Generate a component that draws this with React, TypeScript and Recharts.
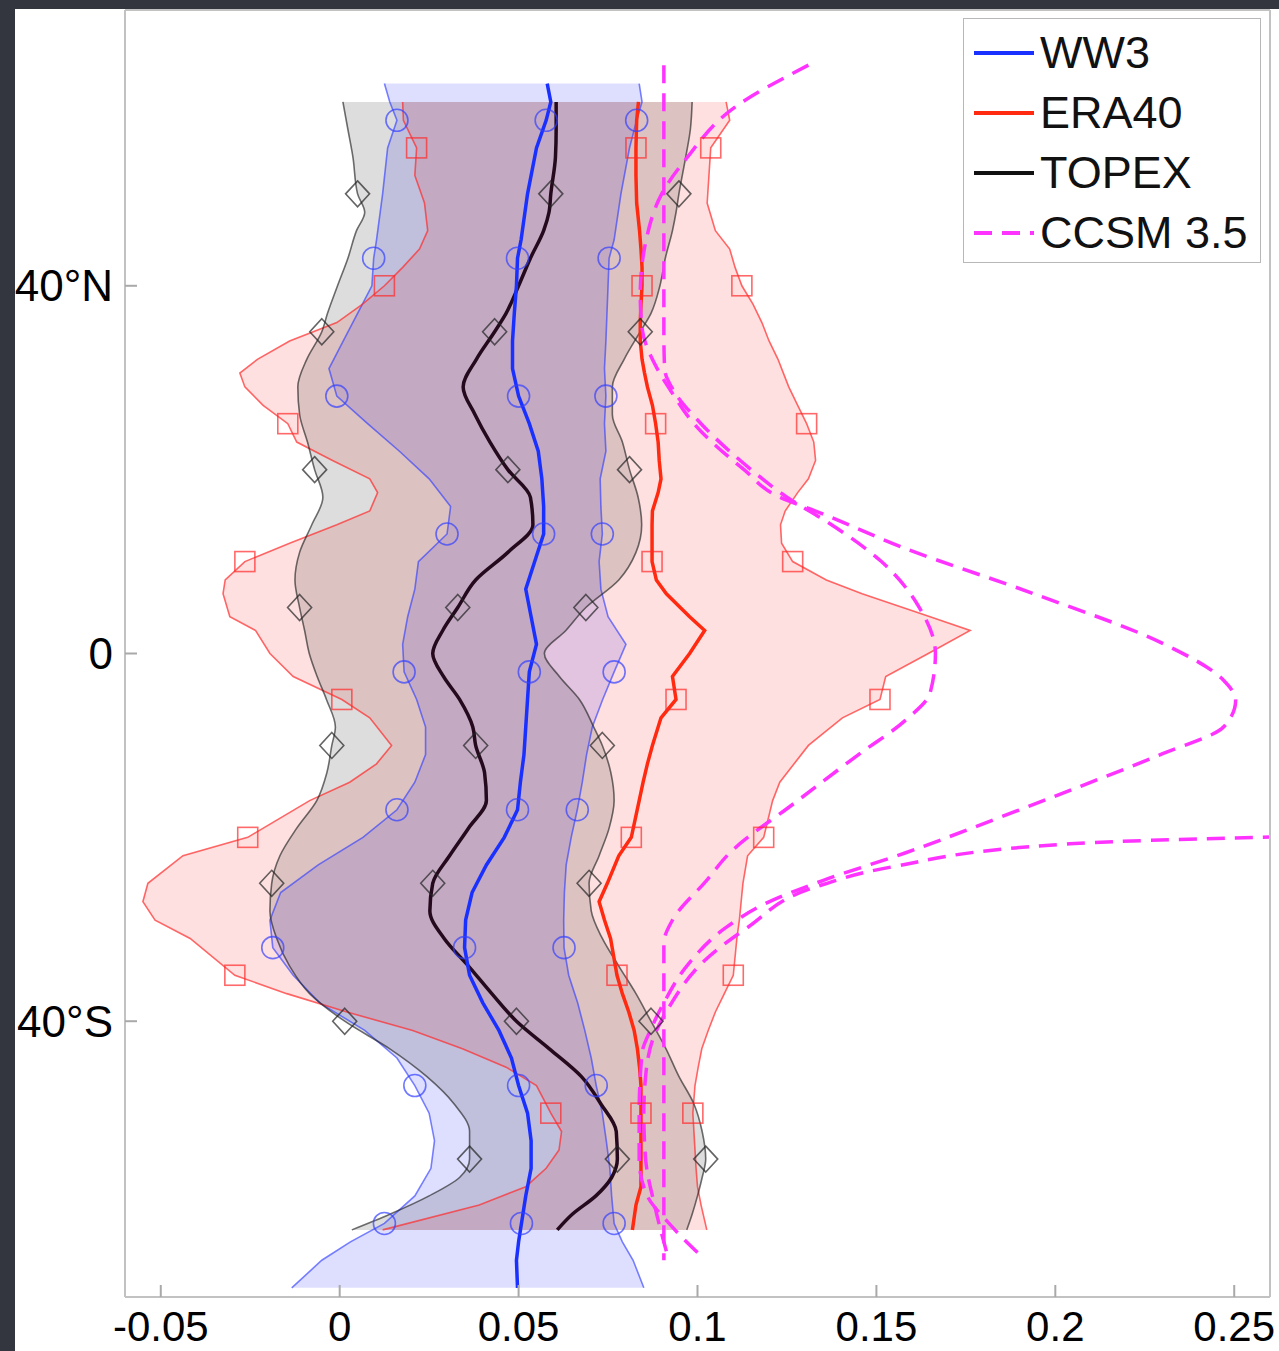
import React from 'react';
import { ComposedChart, Area, Line, XAxis, YAxis, Legend } from 'recharts';

// WW3 band: latitude, lower bound, mean, upper bound
const ww3Lat = [62, 60, 58, 55, 50, 45, 43, 40, 37, 34, 31, 28, 25, 22, 19, 16, 13, 10, 7, 4, 1, -2, -5, -8, -11, -14, -17, -20, -23, -26, -29, -32, -35, -38, -41, -44, -47, -50, -53, -56, -59, -62, -64, -66, -69];
const ww3Lo = [0.0125, 0.014, 0.016, 0.0134, 0.012, 0.0103, 0.0095, 0.009, 0.005, 0.001, -0.003, -0.0008, 0.0078, 0.0167, 0.025, 0.031, 0.03, 0.022, 0.021, 0.019, 0.0176, 0.018, 0.0215, 0.024, 0.024, 0.021, 0.016, 0.0065, -0.006, -0.0165, -0.0195, -0.0187, -0.013, -0.0056, 0.007, 0.016, 0.021, 0.025, 0.0265, 0.0255, 0.021, 0.0125, 0.003, -0.005, -0.0134];
const ww3Mean = [0.058, 0.059, 0.0577, 0.055, 0.0525, 0.0507, 0.0497, 0.0494, 0.0488, 0.0483, 0.0483, 0.05, 0.053, 0.0555, 0.0565, 0.057, 0.057, 0.0545, 0.052, 0.0535, 0.055, 0.053, 0.0525, 0.052, 0.0515, 0.0505, 0.0497, 0.046, 0.041, 0.037, 0.0352, 0.0349, 0.0363, 0.04, 0.0445, 0.048, 0.05, 0.0525, 0.0535, 0.0535, 0.052, 0.0508, 0.05, 0.0494, 0.0497];
const ww3Hi = [0.0837, 0.0845, 0.083, 0.081, 0.0786, 0.0767, 0.0753, 0.075, 0.0747, 0.0744, 0.074, 0.0744, 0.074, 0.0744, 0.0728, 0.073, 0.0734, 0.0725, 0.073, 0.075, 0.08, 0.0767, 0.0735, 0.0706, 0.069, 0.0678, 0.0664, 0.0647, 0.0633, 0.0628, 0.0626, 0.0627, 0.064, 0.0665, 0.0685, 0.0703, 0.0717, 0.0734, 0.0745, 0.0755, 0.076, 0.0767, 0.079, 0.082, 0.085];
const ww3Marks = [58, 43, 28, 13, -2, -17, -32, -47, -62];

// ERA40 band
const eraLat = [60, 58, 55, 52, 49, 46, 44, 42, 40, 38, 36, 34, 32, 30.5, 29, 27, 25, 23, 21, 19, 17.5, 15.5, 14, 12, 10, 8, 6.5, 4, 2.5, 0, -2.5, -5, -7, -10, -12, -14, -16, -20, -22, -25, -27, -29, -31, -35, -37, -39, -41, -43, -45, -47, -50, -52, -54, -56, -58, -60, -62.7];
const eraLo = [0.0176, 0.0178, 0.0215, 0.021, 0.0237, 0.0246, 0.0223, 0.0176, 0.0125, 0.0064, -0.0008, -0.014, -0.023, -0.0279, -0.0265, -0.0214, -0.0145, -0.012, -0.002, 0.0084, 0.0106, 0.0084, -0.0008, -0.014, -0.0265, -0.032, -0.0326, -0.0307, -0.0235, -0.0195, -0.013, 0.0006, 0.0084, 0.0145, 0.0103, 0.0028, -0.0084, -0.0257, -0.0438, -0.0536, -0.055, -0.0516, -0.0418, -0.0293, -0.0148, 0.002, 0.0204, 0.0343, 0.0465, 0.055, 0.059, 0.062, 0.0613, 0.0577, 0.052, 0.039, 0.012];
const eraMean = [0.0835, 0.083, 0.0828, 0.0828, 0.083, 0.0838, 0.0842, 0.0845, 0.0845, 0.0842, 0.084, 0.084, 0.0845, 0.0852, 0.086, 0.0874, 0.0883, 0.089, 0.0893, 0.0898, 0.089, 0.0874, 0.0873, 0.0873, 0.0873, 0.0885, 0.0913, 0.0978, 0.102, 0.0978, 0.093, 0.094, 0.0898, 0.0874, 0.086, 0.0848, 0.0837, 0.0815, 0.078, 0.0748, 0.0725, 0.074, 0.0757, 0.0775, 0.079, 0.0808, 0.0823, 0.0832, 0.0838, 0.0842, 0.0842, 0.0842, 0.0842, 0.0842, 0.0842, 0.0828, 0.0818];
const eraHi = [0.108, 0.109, 0.1037, 0.1032, 0.1027, 0.105, 0.109, 0.1105, 0.1124, 0.1155, 0.118, 0.12, 0.1225, 0.124, 0.1255, 0.128, 0.1305, 0.1325, 0.133, 0.131, 0.128, 0.1245, 0.1232, 0.1235, 0.1266, 0.136, 0.146, 0.165, 0.1762, 0.1645, 0.1526, 0.151, 0.1405, 0.131, 0.127, 0.123, 0.121, 0.1185, 0.114, 0.1127, 0.1122, 0.1117, 0.111, 0.11, 0.1075, 0.105, 0.103, 0.1012, 0.1002, 0.0993, 0.0987, 0.099, 0.0993, 0.0996, 0.1, 0.101, 0.1026];
const eraMarks = [55, 40, 25, 10, -5, -20, -35, -50];

// TOPEX band
const topLat = [60, 57, 54, 50, 48, 46, 43, 40, 37, 35, 32, 29, 26, 23, 20, 17, 14, 11, 8, 5, 2.5, 0, -2.5, -5, -8, -10, -13, -16, -19, -22, -25, -28, -31, -34, -37, -40, -43, -46, -49, -52, -55, -57, -59, -61, -62.7];
const topLo = [0.0009, 0.0023, 0.0037, 0.005, 0.007, 0.0047, 0.0023, -0.0006, -0.0034, -0.005, -0.0092, -0.0117, -0.0112, -0.009, -0.007, -0.0047, -0.0078, -0.0112, -0.0125, -0.0112, -0.0098, -0.0085, -0.0063, -0.0037, -0.0012, -0.0022, -0.0036, -0.0064, -0.012, -0.0167, -0.019, -0.0195, -0.0176, -0.014, -0.0084, 0.0014, 0.014, 0.0243, 0.032, 0.0363, 0.0363, 0.0335, 0.025, 0.014, 0.0034];
const topMean = [0.0605, 0.0605, 0.0603, 0.059, 0.0585, 0.057, 0.0533, 0.05, 0.0465, 0.0433, 0.0382, 0.0345, 0.0378, 0.042, 0.047, 0.0533, 0.054, 0.047, 0.038, 0.033, 0.0288, 0.026, 0.029, 0.0335, 0.0372, 0.038, 0.0405, 0.041, 0.036, 0.0307, 0.026, 0.0252, 0.0292, 0.036, 0.0425, 0.0494, 0.0586, 0.0675, 0.073, 0.0773, 0.0776, 0.076, 0.0716, 0.065, 0.0608];
const topHi = [0.0985, 0.098, 0.0967, 0.0948, 0.094, 0.093, 0.091, 0.0895, 0.087, 0.084, 0.0795, 0.0762, 0.0762, 0.079, 0.081, 0.0834, 0.0844, 0.0828, 0.078, 0.0688, 0.0632, 0.0572, 0.0614, 0.067, 0.071, 0.0734, 0.0758, 0.0767, 0.0753, 0.0725, 0.0697, 0.0703, 0.0734, 0.078, 0.0828, 0.087, 0.0912, 0.0948, 0.099, 0.1013, 0.1023, 0.1013, 0.1, 0.0985, 0.097];
const topMarks = [50, 35, 20, 5, -10, -25, -40, -55];

// CCSM 3.5 dashed curves
const ccsmALat = [64, 55, 45, 35, 31, 28.5, 25, 20, 17, 14.5, 10, 5, 0, -4.3, -7.3, -11, -16.3, -21.7, -24.7, -29, -31.5, -40, -50, -60, -66];
const ccsmA = [0.0906, 0.0906, 0.0906, 0.0906, 0.0908, 0.0935, 0.101, 0.115, 0.125, 0.1355, 0.1514, 0.162, 0.1665, 0.165, 0.158, 0.145, 0.127, 0.109, 0.1025, 0.093, 0.0906, 0.0906, 0.0906, 0.0906, 0.0906];
const ccsmBLat = [64, 59.3, 53.9, 50, 45.6, 39, 35.4, 30.8, 28.3, 25, 20, 17, 15.5, 11.5, 6.5, 1.1, -2.9, -5.1, -8, -10.9, -14.6, -18.2, -21.7, -24.7, -27.2, -29.8, -33.7, -37.7, -40.6, -43.5, -50, -55, -58.7, -62.4, -65.6];
const ccsmB = [0.131, 0.11, 0.097, 0.09, 0.086, 0.084, 0.0845, 0.089, 0.093, 0.099, 0.113, 0.123, 0.133, 0.1576, 0.194, 0.23, 0.247, 0.2504, 0.247, 0.23, 0.206, 0.182, 0.158, 0.135, 0.119, 0.108, 0.0976, 0.091, 0.0873, 0.0845, 0.0837, 0.0837, 0.0856, 0.093, 0.1012];
const ccsmCLat = [-19.5, -20.7, -23.2, -25.4, -29.8, -33.4, -38.5, -42, -46, -50, -55, -60, -66];
const ccsmC = [0.31, 0.204, 0.1545, 0.133, 0.114, 0.102, 0.092, 0.0875, 0.0855, 0.085, 0.0855, 0.088, 0.092];

const xTicks = [-0.05, 0, 0.05, 0.1, 0.15, 0.2, 0.25];
const yTicks = [-40, 0, 40];
const legendNames = ['WW3', 'ERA40', 'TOPEX', 'CCSM 3.5'];

const FONT = '"Liberation Sans", Arial, Helvetica, sans-serif';
const BLUE = '#1930ff';
const RED = '#ff2a10';
const DARK = '#240a1c';
const MAGENTA = '#ff33ff';

const band = (lat: number[], lo: number[], mean: number[], hi: number[]) =>
  lat.map((l, i) => ({ lat: l, lo: lo[i], mean: mean[i], hi: hi[i], range: [lo[i], hi[i]] }));
const curve = (lat: number[], v: number[]) => lat.map((l, i) => ({ lat: l, v: v[i] }));

const ww3Data = band(ww3Lat, ww3Lo, ww3Mean, ww3Hi);
const eraData = band(eraLat, eraLo, eraMean, eraHi);
const topData = band(topLat, topLo, topMean, topHi);
const ccsmAData = curve(ccsmALat, ccsmA);
const ccsmBData = curve(ccsmBLat, ccsmB);
const ccsmCData = curve(ccsmCLat, ccsmC);

// hollow marker drawn only at the marked latitudes
const marker = (shape: string, color: string, marks: number[]) => (props: any) => {
  const { cx, cy, payload, index } = props;
  const key = `m-${shape}-${index}`;
  if (cx == null || cy == null || !payload || !marks.includes(payload.lat)) return <g key={key} />;
  const common = { fill: 'none', stroke: color, strokeWidth: 1.6, strokeOpacity: 0.7 };
  if (shape === 'circle') return <circle key={key} cx={cx} cy={cy} r={11} {...common} />;
  if (shape === 'square') return <rect key={key} x={cx - 10} y={cy - 10} width={20} height={20} {...common} />;
  return <polygon key={key} points={`${cx},${cy - 13} ${cx + 12},${cy} ${cx},${cy + 13} ${cx - 12},${cy}`} {...common} />;
};

const latLabel = (v: number) => (v > 0 ? `${v}°N` : v < 0 ? `${-v}°S` : '0');

const LegendBox = () => (
  <div
    style={{
      width: 298,
      height: 245,
      border: '1.5px solid #b8b8b8',
      background: '#fff',
      boxSizing: 'border-box',
      fontFamily: FONT,
      fontSize: 45,
      color: '#111',
      paddingTop: 4,
    }}
  >
    {legendNames.map((name, i) => (
      <div key={name} style={{ display: 'flex', alignItems: 'center', height: 60 }}>
        <svg width={74} height={20} style={{ flex: 'none' }}>
          <line
            x1={10}
            y1={10}
            x2={70}
            y2={10}
            stroke={[BLUE, RED, '#111', MAGENTA][i]}
            strokeWidth={4}
            strokeDasharray={i === 3 ? '18 10' : undefined}
          />
        </svg>
        <span style={{ marginLeft: 2, whiteSpace: 'nowrap' }}>{name}</span>
      </div>
    ))}
  </div>
);

const W = 1279;
const H = 1351;

const App = () => {
  const axisStroke = { stroke: '#c2c2c2', strokeWidth: 2 };
  const tickStroke = { stroke: '#a9a9a9', strokeWidth: 2 };
  return (
    <div style={{ position: 'absolute', left: 0, top: 0, width: W, height: H, background: '#33363e' }}>
      <div style={{ position: 'absolute', left: 15, top: 9, width: W - 15, height: H - 9, background: '#fff', overflow: 'hidden' }}>
        <div style={{ position: 'absolute', left: -15, top: -9 }}>
          <ComposedChart width={W} height={H} layout="vertical" margin={{ top: 10, right: 9, bottom: 4, left: 25 }}>
            <XAxis
              type="number"
              domain={[-0.06, 0.26]}
              allowDataOverflow
              ticks={xTicks}
              height={50}
              tickSize={-12}
              tickMargin={26}
              tickLine={tickStroke}
              axisLine={axisStroke}
              tick={{ fill: '#000', fontSize: 42, fontFamily: FONT }}
              tickFormatter={(v: number) => String(v)}
            />
            <XAxis
              xAxisId="top"
              orientation="top"
              mirror
              type="number"
              domain={[-0.06, 0.26]}
              allowDataOverflow
              ticks={xTicks}
              tick={false}
              tickSize={12}
              tickLine={tickStroke}
              axisLine={axisStroke}
            />
            <YAxis
              type="number"
              dataKey="lat"
              domain={[-70, 70]}
              allowDataOverflow
              reversed
              ticks={yTicks}
              width={100}
              tickSize={-12}
              tickMargin={24}
              tickLine={tickStroke}
              axisLine={axisStroke}
              tick={{ fill: '#000', fontSize: 44, fontFamily: FONT }}
              tickFormatter={latLabel}
            />
            <YAxis
              yAxisId="right"
              orientation="right"
              mirror
              type="number"
              dataKey="lat"
              domain={[-70, 70]}
              allowDataOverflow
              reversed
              ticks={yTicks}
              tick={false}
              tickSize={12}
              tickLine={tickStroke}
              axisLine={axisStroke}
            />

            {/* shaded spreads */}
            <Area data={ww3Data} dataKey="range" type="linear" stroke="none" fill="#0000ff" fillOpacity={0.13} dot={false} activeDot={false} isAnimationActive={false} />
            <Area data={eraData} dataKey="range" type="linear" stroke="none" fill="#ff0000" fillOpacity={0.12} dot={false} activeDot={false} isAnimationActive={false} />
            <Area data={topData} dataKey="range" type="monotone" stroke="none" fill="#000000" fillOpacity={0.135} dot={false} activeDot={false} isAnimationActive={false} />

            {/* spread edges */}
            <Line data={ww3Data} dataKey="lo" type="linear" stroke="#3340ff" strokeOpacity={0.65} strokeWidth={1.6} dot={marker('circle', '#3340ff', ww3Marks)} activeDot={false} isAnimationActive={false} />
            <Line data={ww3Data} dataKey="hi" type="linear" stroke="#3340ff" strokeOpacity={0.65} strokeWidth={1.6} dot={marker('circle', '#3340ff', ww3Marks)} activeDot={false} isAnimationActive={false} />
            <Line data={eraData} dataKey="lo" type="linear" stroke="#ff2a2a" strokeOpacity={0.7} strokeWidth={1.6} dot={marker('square', '#ff2a2a', eraMarks)} activeDot={false} isAnimationActive={false} />
            <Line data={eraData} dataKey="hi" type="linear" stroke="#ff2a2a" strokeOpacity={0.7} strokeWidth={1.6} dot={marker('square', '#ff2a2a', eraMarks)} activeDot={false} isAnimationActive={false} />
            <Line data={topData} dataKey="lo" type="monotone" stroke="#222" strokeOpacity={0.65} strokeWidth={1.6} dot={marker('diamond', '#222', topMarks)} activeDot={false} isAnimationActive={false} />
            <Line data={topData} dataKey="hi" type="monotone" stroke="#222" strokeOpacity={0.65} strokeWidth={1.6} dot={marker('diamond', '#222', topMarks)} activeDot={false} isAnimationActive={false} />

            {/* means */}
            <Line data={topData} dataKey="mean" type="monotone" stroke={DARK} strokeWidth={3.5} dot={marker('diamond', '#222', topMarks)} activeDot={false} isAnimationActive={false} />
            <Line data={ww3Data} dataKey="mean" type="linear" stroke={BLUE} strokeWidth={3.5} dot={marker('circle', '#3340ff', ww3Marks)} activeDot={false} isAnimationActive={false} />
            <Line data={eraData} dataKey="mean" type="linear" stroke={RED} strokeWidth={3.5} dot={marker('square', '#ff2a2a', eraMarks)} activeDot={false} isAnimationActive={false} />

            {/* CCSM 3.5 */}
            <Line data={ccsmAData} dataKey="v" type="monotone" stroke={MAGENTA} strokeWidth={3.5} strokeDasharray="18 10" dot={false} activeDot={false} isAnimationActive={false} />
            <Line data={ccsmBData} dataKey="v" type="monotone" stroke={MAGENTA} strokeWidth={3.5} strokeDasharray="18 10" dot={false} activeDot={false} isAnimationActive={false} />
            <Line data={ccsmCData} dataKey="v" type="monotone" stroke={MAGENTA} strokeWidth={3.5} strokeDasharray="18 10" dot={false} activeDot={false} isAnimationActive={false} />

            <Legend
              layout="horizontal"
              verticalAlign="middle"
              align="center"
              content={() => <LegendBox />}
              wrapperStyle={{ left: 963, top: 18, width: 298 }}
            />
          </ComposedChart>
        </div>
      </div>
    </div>
  );
};

export default App;
